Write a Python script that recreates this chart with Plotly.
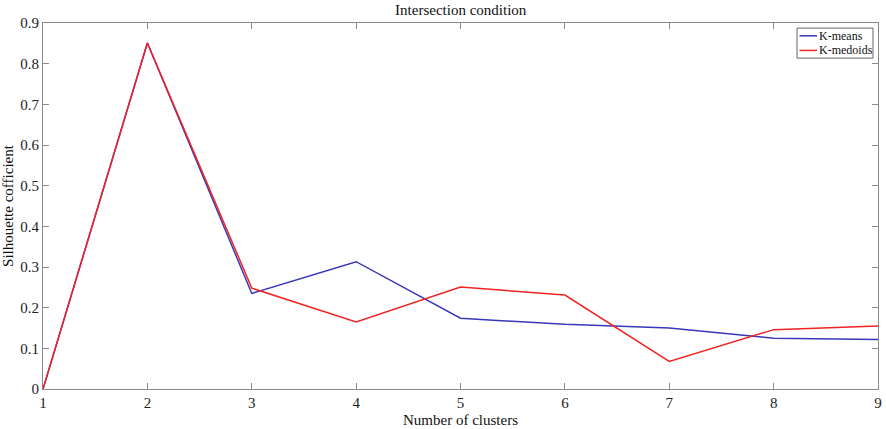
import plotly.graph_objects as go

clusters = [1, 2, 3, 4, 5, 6, 7, 8, 9]
kmeans = [0.0, 0.851, 0.235, 0.313, 0.174, 0.159, 0.150, 0.125, 0.122]
kmedoids = [0.0, 0.851, 0.248, 0.165, 0.251, 0.231, 0.068, 0.146, 0.155]
series_names = ["K-means", "K-medoids"]
series_colors = ["rgb(55,55,185)", "rgb(240,35,35)"]

font = "Liberation Serif, Times New Roman, serif"

fig = go.Figure()
for name, vals, color in zip(series_names, [kmeans, kmedoids], series_colors):
    fig.add_trace(go.Scatter(x=clusters, y=vals, mode="lines", name=name,
                             line=dict(color=color, width=1.5)))

axis_common = dict(showline=True, linecolor="#8a8a8a", linewidth=1, mirror="ticks",
                   ticks="inside", ticklen=6, tickcolor="#8a8a8a", showgrid=False,
                   zeroline=False, automargin=False,
                   tickfont=dict(family=font, size=15, color="#222"))

# Compact boxed legend in the upper-right corner of the axes
lx0, lx1, ly0, ly1 = 0.903, 0.994, 0.904, 0.986
shapes = [dict(type="rect", xref="paper", yref="paper", x0=lx0, x1=lx1, y0=ly0, y1=ly1,
               line=dict(color="#666", width=1), fillcolor="white", layer="above")]
annotations = []
row_y = [0.965, 0.925]
for name, color, yy in zip(series_names, series_colors, row_y):
    shapes.append(dict(type="line", xref="paper", yref="paper", x0=lx0 + 0.003, x1=lx0 + 0.024,
                       y0=yy, y1=yy, line=dict(color=color, width=1.5), layer="above"))
    annotations.append(dict(xref="paper", yref="paper", x=lx0 + 0.024, y=yy, text=name,
                            showarrow=False, xanchor="left", yanchor="middle",
                            font=dict(family=font, size=12, color="#111")))

fig.update_layout(
    width=886, height=429,
    margin=dict(l=43, r=8, t=23, b=40),
    paper_bgcolor="white", plot_bgcolor="white",
    showlegend=False,
    shapes=shapes, annotations=annotations,
    title=dict(text="Intersection condition", x=0.52, xanchor="center", y=0.99, yanchor="top",
               font=dict(family=font, size=15, color="#111")),
    xaxis=dict(range=[1, 9], tickvals=clusters, **axis_common,
               title=dict(text="Number of clusters", standoff=4,
                          font=dict(family=font, size=15, color="#111"))),
    yaxis=dict(range=[0, 0.9], tickvals=[0, 0.1, 0.2, 0.3, 0.4, 0.5, 0.6, 0.7, 0.8, 0.9],
               ticktext=["0", "0.1", "0.2", "0.3", "0.4", "0.5", "0.6", "0.7", "0.8", "0.9"],
               **axis_common,
               title=dict(text="Silhouette cofficient", standoff=5,
                          font=dict(family=font, size=15, color="#111"))),
)

fig.write_html("out.html")
